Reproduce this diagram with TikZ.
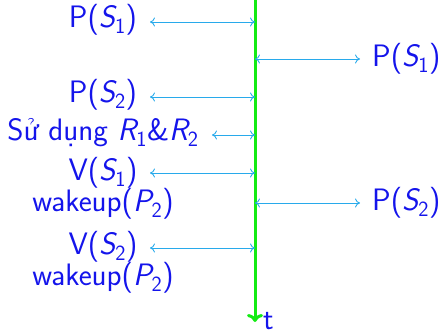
\documentclass[tikz,border=0pt]{standalone}
\usepackage{amsmath}
\usetikzlibrary{arrows.meta}
\definecolor{txtblue}{RGB}{20,20,235}
\definecolor{arrcyan}{RGB}{40,170,235}
\definecolor{tgreen}{RGB}{20,235,20}
\newcommand{\ms}[2]{$\textsf{\itshape #1}_{\textsf{#2}}$}
\tikzset{
  lbl/.style={text=txtblue, font=\sffamily\fontsize{31}{31}\selectfont, inner sep=0pt, align=center},
  ev/.style={arrcyan, line width=0.9pt, {To[length=5pt,width=9pt]}-{To[length=5pt,width=9pt]}},
  tline/.style={tgreen, line width=3pt, -{To[length=8pt,width=16pt,line width=3pt]}}
}
\begin{document}
\begin{tikzpicture}[x=1pt,y=-1pt]
\useasboundingbox (0,0) rectangle (441,334);
% timeline
\coordinate (top) at (255,0);
\coordinate (bot) at (255,322);
\draw[tline] (top) -- (bot);
\node[lbl, anchor=west] (t) at (263,321) {t};
% left labels
\node[lbl] (p1) at (103,20) {P(\ms{S}{1})};
\node[lbl] (p2) at (103,95) {P(\ms{S}{2})};
\node[lbl] (use) at (103,133) {Sử dụng \ms{R}{1}\&\ms{R}{2}};
\node[lbl] (v1) at (103,188) {V(\ms{S}{1})\\wakeup(\ms{P}{2})};
\node[lbl] (v2) at (103,262) {V(\ms{S}{2})\\wakeup(\ms{P}{2})};
% right labels
\node[lbl, anchor=west] (rp1) at (372,59) {P(\ms{S}{1})};
\node[lbl, anchor=west] (rp2) at (372,203) {P(\ms{S}{2})};
% coordinates
\coordinate (a1) at (150,22); \coordinate (b1) at (255,22);
\coordinate (a2) at (255,59); \coordinate (b2) at (360,59);
\coordinate (a3) at (150,97); \coordinate (b3) at (255,97);
\coordinate (a4) at (212,135); \coordinate (b4) at (255,135);
\coordinate (a5) at (150,173); \coordinate (b5) at (255,173);
\coordinate (a6) at (255,203); \coordinate (b6) at (360,203);
\coordinate (a7) at (150,248); \coordinate (b7) at (255,248);
\draw[ev] (a1) -- (b1);
\draw[ev] (a2) -- (b2);
\draw[ev] (a3) -- (b3);
\draw[ev] (a4) -- (b4);
\draw[ev] (a5) -- (b5);
\draw[ev] (a6) -- (b6);
\draw[ev] (a7) -- (b7);
\end{tikzpicture}
\end{document}
